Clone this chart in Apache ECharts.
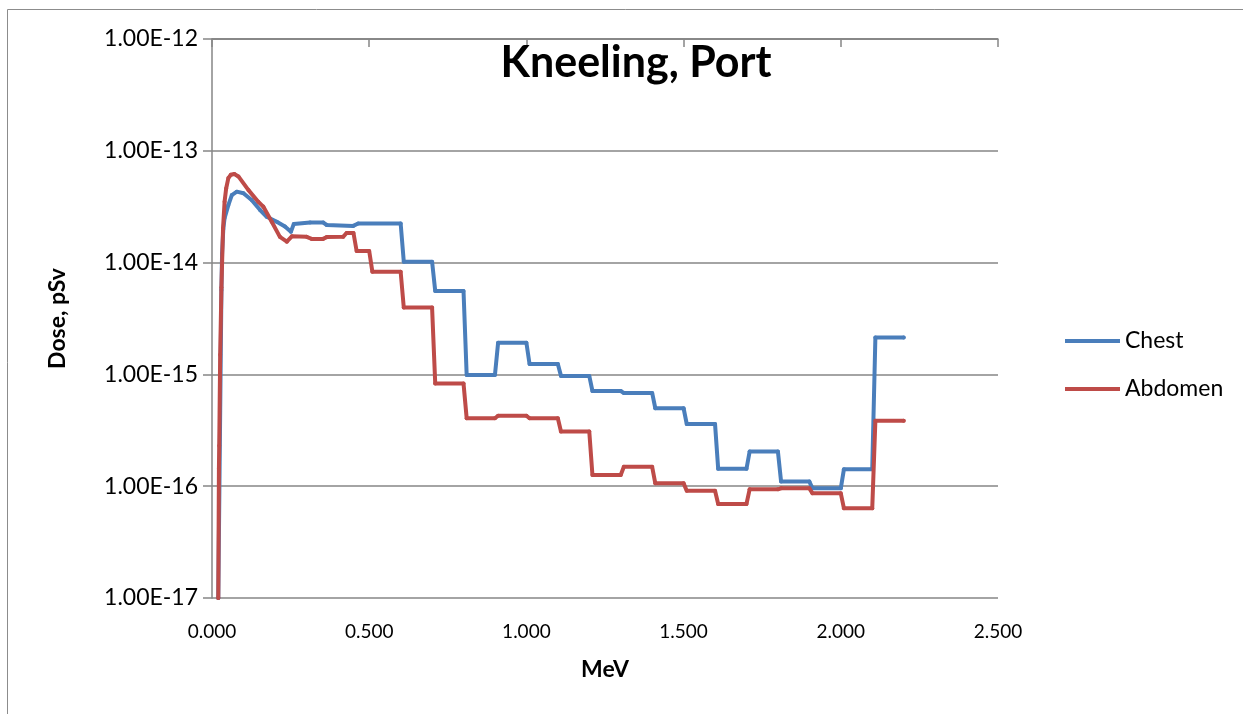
<!DOCTYPE html>
<html>
<head>
<meta charset="utf-8">
<script src="https://cdn.jsdelivr.net/npm/echarts@6/dist/echarts.min.js"></script>
<style>
html,body{margin:0;padding:0;background:#fff;}
#chart{width:1243px;height:714px;}
</style>
</head>
<body>
<div id="chart"></div>
<script>
const chartTitle = 'Kneeling, Port';
const seriesNames = ['Chest', 'Abdomen'];
const xTicks = [0, 0.5, 1.0, 1.5, 2.0, 2.5];

const chestMeV = [0.020, 0.030, 0.032, 0.036, 0.040, 0.052, 0.063, 0.079, 0.100, 0.126,
  0.153, 0.174, 0.206, 0.232, 0.251, 0.260, 0.312, 0.354, 0.365, 0.449,
  0.465, 0.600, 0.610, 0.700, 0.710, 0.800, 0.810, 0.900, 0.910, 1.000,
  1.010, 1.100, 1.110, 1.200, 1.210, 1.300, 1.310, 1.400, 1.410, 1.500,
  1.510, 1.600, 1.610, 1.700, 1.710, 1.800, 1.810, 1.900, 1.910, 2.000,
  2.010, 2.100, 2.110, 2.200];
const chestDose = [1e-17, 5.7e-15, 1.2e-14, 2.0e-14, 2.5e-14, 3.27e-14, 4.02e-14, 4.31e-14, 4.17e-14, 3.63e-14,
  2.95e-14, 2.57e-14, 2.32e-14, 2.1e-14, 1.89e-14, 2.21e-14, 2.28e-14, 2.28e-14, 2.17e-14, 2.13e-14,
  2.24e-14, 2.24e-14, 1.02e-14, 1.02e-14, 5.57e-15, 5.57e-15, 9.9e-16, 9.9e-16, 1.92e-15, 1.92e-15,
  1.24e-15, 1.24e-15, 9.7e-16, 9.7e-16, 7.1e-16, 7.1e-16, 6.83e-16, 6.83e-16, 4.98e-16, 4.98e-16,
  3.6e-16, 3.6e-16, 1.43e-16, 1.43e-16, 2.04e-16, 2.04e-16, 1.1e-16, 1.1e-16, 9.57e-17, 9.57e-17,
  1.42e-16, 1.42e-16, 2.14e-15, 2.14e-15];

const abdomenMeV = [0.020, 0.022, 0.023, 0.026, 0.030, 0.035, 0.040, 0.045, 0.052, 0.060,
  0.071, 0.084, 0.116, 0.147, 0.163, 0.190, 0.216, 0.238, 0.254, 0.301,
  0.317, 0.353, 0.365, 0.417, 0.428, 0.450, 0.460, 0.500, 0.510, 0.600,
  0.610, 0.700, 0.710, 0.800, 0.810, 0.900, 0.910, 1.000, 1.010, 1.100,
  1.110, 1.200, 1.210, 1.300, 1.310, 1.400, 1.410, 1.500, 1.510, 1.600,
  1.610, 1.700, 1.710, 1.800, 1.810, 1.900, 1.910, 2.000, 2.010, 2.100,
  2.110, 2.200];
const abdomenDose = [1e-17, 1.43e-16, 2.3e-16, 1.5e-15, 6e-15, 2e-14, 3.5e-14, 4.6e-14, 5.7e-14, 6.1e-14,
  6.2e-14, 5.9e-14, 4.45e-14, 3.5e-14, 3.17e-14, 2.32e-14, 1.7e-14, 1.54e-14, 1.72e-14, 1.7e-14,
  1.63e-14, 1.63e-14, 1.69e-14, 1.70e-14, 1.84e-14, 1.84e-14, 1.27e-14, 1.27e-14, 8.3e-15, 8.3e-15,
  3.96e-15, 3.96e-15, 8.3e-16, 8.3e-16, 4.05e-16, 4.05e-16, 4.27e-16, 4.27e-16, 4.05e-16, 4.05e-16,
  3.08e-16, 3.08e-16, 1.26e-16, 1.26e-16, 1.49e-16, 1.49e-16, 1.06e-16, 1.06e-16, 9.1e-17, 9.1e-17,
  6.93e-17, 6.93e-17, 9.37e-17, 9.37e-17, 9.57e-17, 9.57e-17, 8.63e-17, 8.63e-17, 6.34e-17, 6.34e-17,
  3.85e-16, 3.85e-16];

const FONT = 'Lato, "Open Sans", sans-serif';
const chestColor = '#4A7EBB';
const abdomenColor = '#BE4B48';
const axisGray = '#868686';

function pairs(xs, ys) { return xs.map((x, i) => [x, ys[i]]); }

const chart = echarts.init(document.getElementById('chart'), null, { renderer: 'canvas' });
chart.setOption({
  animation: false,
  backgroundColor: '#fff',
  graphic: [{
    type: 'rect', silent: true,
    shape: { x: 7.5, y: 9.5, width: 1300, height: 800 },
    style: { fill: 'none', stroke: '#8c8c8c', lineWidth: 1 }
  }],
  title: {
    text: chartTitle,
    left: 631, top: 37, textAlign: 'center',
    textStyle: { fontFamily: FONT, fontSize: 43, fontWeight: 'bold', color: '#000' }
  },
  legend: {
    orient: 'vertical',
    left: 1060, top: 322,
    itemWidth: 55, itemHeight: 4, itemGap: 20,
    icon: 'rect',
    textStyle: { fontFamily: FONT, fontSize: 23, color: '#000', lineHeight: 28, padding: [0, 0, 0, 0] },
    data: seriesNames
  },
  grid: { left: 212, right: 245, top: 39, bottom: 116, containLabel: false },
  xAxis: [{
    type: 'value', position: 'bottom',
    min: xTicks[0], max: xTicks[xTicks.length - 1], interval: 0.5,
    name: 'MeV', nameLocation: 'middle', nameGap: 60,
    nameTextStyle: { fontFamily: FONT, fontSize: 23, fontWeight: 'bold', color: '#000' },
    axisLine: { show: false },
    axisTick: { show: false },
    splitLine: { show: false },
    axisLabel: { fontFamily: FONT, fontSize: 19, color: '#000', margin: 24,
      formatter: v => v.toFixed(3) }
  }, {
    type: 'value', position: 'top',
    min: xTicks[0], max: xTicks[xTicks.length - 1], interval: 0.5,
    axisLine: { show: true, lineStyle: { color: axisGray, width: 1.5 } },
    axisTick: { show: true, inside: true, length: 8, lineStyle: { color: axisGray, width: 1.5 } },
    axisLabel: { show: false },
    splitLine: { show: false }
  }],
  yAxis: {
    type: 'log', logBase: 10, min: 1e-17, max: 1e-12, splitNumber: 5,
    name: 'Dose, pSv', nameLocation: 'middle', nameGap: 143, nameRotate: 90,
    nameTextStyle: { fontFamily: FONT, fontSize: 23, fontWeight: 'bold', color: '#000' },
    axisLine: { show: true, lineStyle: { color: axisGray, width: 1.5 } },
    axisTick: { show: true, inside: false, length: 9, lineStyle: { color: axisGray, width: 1.5 } },
    splitLine: { show: true, lineStyle: { color: axisGray, width: 1.5 } },
    axisLabel: { fontFamily: FONT, fontSize: 23, color: '#000', margin: 14,
      formatter: v => Number(v).toExponential(2).toUpperCase() }
  },
  series: [{
    name: seriesNames[0], type: 'line', xAxisIndex: 0,
    data: pairs(chestMeV, chestDose),
    symbol: 'circle', symbolSize: 4, showSymbol: true,
    itemStyle: { color: chestColor },
    lineStyle: { color: chestColor, width: 4, join: 'round', cap: 'round' },
    clip: true, z: 2
  }, {
    name: seriesNames[1], type: 'line', xAxisIndex: 0,
    data: pairs(abdomenMeV, abdomenDose),
    symbol: 'circle', symbolSize: 4, showSymbol: true,
    itemStyle: { color: abdomenColor },
    lineStyle: { color: abdomenColor, width: 4, join: 'round', cap: 'round' },
    clip: true, z: 3
  }]
});
</script>
</body>
</html>
